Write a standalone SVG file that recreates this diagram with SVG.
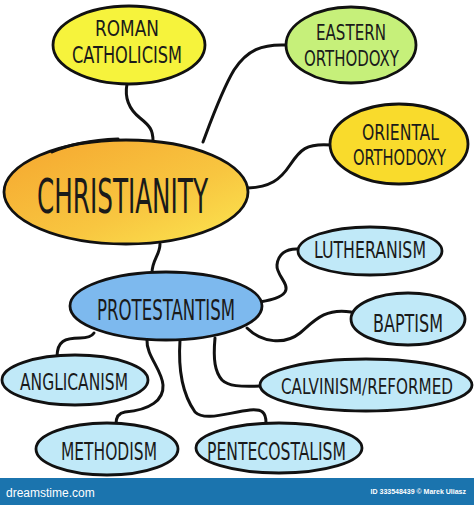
<svg xmlns="http://www.w3.org/2000/svg" width="474" height="505" viewBox="0 0 474 505">
<defs>
<linearGradient id="gOr" x1="0" y1="0" x2="1" y2="1">
<stop offset="0" stop-color="#f5a62f"/>
<stop offset="0.6" stop-color="#f8c640"/>
<stop offset="1" stop-color="#fbe650"/>
</linearGradient>
<style>
.n{stroke:#111;stroke-width:2.8}
.c{fill:none;stroke:#111;stroke-width:3;stroke-linecap:round;stroke-linejoin:round}
.t{font-family:"DejaVu Sans Condensed","DejaVu Sans",sans-serif;fill:#1a1a1a;text-anchor:start}
.lb{fill:#c0e9f8}
</style>
</defs>
<rect width="474" height="505" fill="#fff"/>
<g id="connectors">
<path class="c" d="M127,84 C124,100 130,110 140,118 C150,126 153,130 153,141"/>
<path class="c" d="M286,45 C262,44 247,50 234,70 C222,90 212,118 203,142"/>
<path class="c" d="M331,145 C306,143 300,150 290,165 C280,180 270,187 248,188"/>
<path class="c" d="M160,244 C160,255 152,260 152,273"/>
<path class="c" d="M299,249 C285,248 278,255 277,265 C276,275 290,284 285,292 C281,298 270,300 260,302"/>
<path class="c" d="M351,312 C325,308 315,320 300,333 C285,345 262,343 247,328"/>
<path class="c" d="M215,338 C213,360 215,372 222,380 C228,386 240,387 261,386"/>
<path class="c" d="M180,340 C178,370 183,395 195,412 C205,422 230,412 250,410 C262,409 266,412 266,423"/>
<path class="c" d="M147,340 C146,355 162,370 163,385 C164,400 150,410 125,412 C118,413 116,418 116,424"/>
<path class="c" d="M57,357 C57,341 65,338 80,338 C88,338 92,336 94,333"/>
</g>
<g id="roman-catholicism">
<ellipse class="n" cx="129" cy="45" rx="76" ry="39" fill="#f6f33c"/>
<text class="t" x="95" y="36" font-size="21" textLength="64" lengthAdjust="spacingAndGlyphs">ROMAN</text>
<text class="t" x="72" y="63" font-size="23" textLength="110" lengthAdjust="spacingAndGlyphs">CATHOLICISM</text>
</g>
<g id="eastern-orthodoxy">
<ellipse class="n" cx="351" cy="45" rx="65" ry="38" fill="#c6f07a"/>
<text class="t" x="316" y="40" font-size="21" textLength="70" lengthAdjust="spacingAndGlyphs">EASTERN</text>
<text class="t" x="304" y="66" font-size="22" textLength="95" lengthAdjust="spacingAndGlyphs">ORTHODOXY</text>
</g>
<g id="oriental-orthodoxy">
<ellipse class="n" cx="399" cy="144" rx="69" ry="40" fill="#f9db2c"/>
<text class="t" x="362" y="140" font-size="21" textLength="77" lengthAdjust="spacingAndGlyphs">ORIENTAL</text>
<text class="t" x="353" y="165" font-size="21" textLength="93" lengthAdjust="spacingAndGlyphs">ORTHODOXY</text>
</g>
<g id="christianity">
<ellipse class="n" cx="126" cy="192" rx="122" ry="52" fill="url(#gOr)" stroke-width="3"/>
<path class="c" d="M52,152 C72,143 95,140 118,139" stroke-width="2.5"/>
<text class="t" x="37" y="213" font-size="48" textLength="171" lengthAdjust="spacingAndGlyphs">CHRISTIANITY</text>
</g>
<g id="protestantism">
<ellipse class="n" cx="166" cy="306" rx="96" ry="34" fill="#7db9ee"/>
<text class="t" x="97" y="320" font-size="28" textLength="138" lengthAdjust="spacingAndGlyphs">PROTESTANTISM</text>
</g>
<g id="lutheranism">
<ellipse class="n lb" cx="370" cy="251" rx="72" ry="24"/>
<text class="t" x="314" y="258" font-size="23" textLength="112" lengthAdjust="spacingAndGlyphs">LUTHERANISM</text>
</g>
<g id="baptism">
<ellipse class="n lb" cx="408" cy="319" rx="57" ry="26"/>
<text class="t" x="373" y="332" font-size="25" textLength="70" lengthAdjust="spacingAndGlyphs">BAPTISM</text>
</g>
<g id="calvinism-reformed">
<ellipse class="n lb" cx="366" cy="385" rx="106" ry="26"/>
<text class="t" x="281" y="394" font-size="22" textLength="172" lengthAdjust="spacingAndGlyphs">CALVINISM/REFORMED</text>
</g>
<g id="anglicanism">
<ellipse class="n lb" cx="75" cy="380" rx="73" ry="25"/>
<text class="t" x="20" y="390" font-size="23" textLength="108" lengthAdjust="spacingAndGlyphs">ANGLICANISM</text>
</g>
<g id="methodism">
<ellipse class="n lb" cx="107" cy="449" rx="71" ry="26"/>
<text class="t" x="61" y="460" font-size="24" textLength="96" lengthAdjust="spacingAndGlyphs">METHODISM</text>
</g>
<g id="pentecostalism">
<ellipse class="n lb" cx="279" cy="448" rx="83" ry="25"/>
<text class="t" x="207" y="460" font-size="25" textLength="139" lengthAdjust="spacingAndGlyphs">PENTECOSTALISM</text>
</g>
<g id="footer">
<rect x="0" y="478" width="474" height="27" fill="#1b74ae"/>
<text x="6" y="497" font-family="'Liberation Sans',sans-serif" font-size="12" fill="#fff">dreamstime.com</text>
<text x="466" y="494" font-family="'Liberation Sans',sans-serif" font-size="7" font-weight="bold" fill="#fff" text-anchor="end">ID 333548439 © Marek Uliasz</text>
</g>
</svg>
